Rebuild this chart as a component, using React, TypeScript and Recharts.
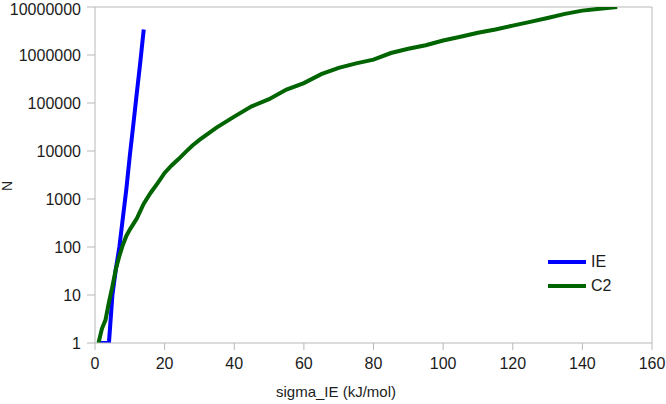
import React from "react";
import {
  LineChart,
  Line,
  XAxis,
  YAxis,
  Legend,
  ReferenceLine,
} from "recharts";

// sigma_IE (kJ/mol) vs N
const ieX = [1, 2, 3, 4, 5, 6, 7, 8, 9, 10, 11, 12, 13, 14];
const ieN = [1, 1, 1, 1, 10, 35, 100, 400, 1600, 8000, 35000, 160000, 700000, 3400000];

const c2X = [
  1, 2, 3, 4, 5, 6, 7, 8, 9, 10, 12, 14, 16, 18, 20, 22, 24, 26, 28, 30, 35, 40, 45,
  50, 55, 60, 65, 70, 75, 80, 85, 90, 95, 100, 105, 110, 115, 120, 125, 130, 135,
  140, 145, 150,
];
const c2N = [
  1, 2, 3, 7, 15, 35, 65, 110, 170, 230, 390, 800, 1350, 2150, 3500, 5000, 6800,
  9500, 13000, 17000, 31000, 52000, 85000, 120000, 190000, 260000, 400000, 540000,
  670000, 800000, 1100000, 1350000, 1600000, 2000000, 2400000, 2900000, 3400000,
  4100000, 4900000, 5900000, 7200000, 8400000, 9200000, 10000000,
];

const xTicks = [0, 20, 40, 60, 80, 100, 120, 140, 160];
const yTicks = [1, 10, 100, 1000, 10000, 100000, 1000000, 10000000];

const seriesNames = ["IE", "C2"];
const seriesColors = ["#0000ff", "#006400"];

const ieData = ieX.map((x, i) => ({ x, n: ieN[i] }));
const c2Data = c2X.map((x, i) => ({ x, n: c2N[i] }));

const FONT = "'Liberation Sans', Arial, sans-serif";
const TEXT = "#1c1c1c";
const GRAY = "#b8b8b8";

function LegendBox() {
  return (
    <div style={{ fontFamily: FONT, fontSize: 16, color: TEXT }}>
      {seriesNames.map((name, i) => (
        <div
          key={name}
          style={{ display: "flex", alignItems: "center", height: 23.7 }}
        >
          <svg width={38} height={6} style={{ display: "block" }}>
            <line x1={0} y1={3} x2={38} y2={3} stroke={seriesColors[i]} strokeWidth={4} />
          </svg>
          <span style={{ marginLeft: 5 }}>{name}</span>
        </div>
      ))}
    </div>
  );
}

export default function App() {
  return (
    <div
      style={{
        position: "absolute",
        left: 0,
        top: 0,
        width: 666,
        height: 404,
        background: "#fff",
      }}
    >
      <LineChart
        width={666}
        height={404}
        margin={{ top: 7, right: 14, bottom: 0, left: 0 }}
      >
        <XAxis
          dataKey="x"
          type="number"
          domain={[0, 160]}
          ticks={xTicks}
          allowDuplicatedCategory={false}
          height={61}
          stroke={GRAY}
          tickSize={7}
          tickMargin={8}
          tick={{ fill: TEXT, fontSize: 16, fontFamily: FONT }}
          label={(props: any) => {
            const vb = props.viewBox;
            return (
              <text
                x={336}
                y={vb.y + vb.height - 7}
                textAnchor="middle"
                fill={TEXT}
                fontSize={15}
                fontFamily={FONT}
              >
                sigma_IE (kJ/mol)
              </text>
            );
          }}
        />
        <YAxis
          dataKey="n"
          scale="log"
          domain={[1, 10000000]}
          ticks={yTicks}
          allowDataOverflow
          width={95}
          stroke={GRAY}
          tickSize={8}
          tickMargin={6}
          tickFormatter={(v: number) => String(v)}
          tick={{ fill: TEXT, fontSize: 16, fontFamily: FONT }}
          label={(props: any) => {
            const vb = props.viewBox;
            const cx = 7;
            const cy = vb.y + vb.height / 2 + 11;
            return (
              <text
                x={cx}
                y={cy}
                transform={`rotate(-90, ${cx}, ${cy})`}
                textAnchor="middle"
                dominantBaseline="central"
                fill={TEXT}
                fontSize={14}
                fontFamily={FONT}
              >
                N
              </text>
            );
          }}
        />
        <ReferenceLine y={10000000} stroke={GRAY} />
        <ReferenceLine x={160} stroke={GRAY} />
        <Legend
          layout="vertical"
          align="center"
          verticalAlign="middle"
          content={() => <LegendBox />}
          wrapperStyle={{ position: "absolute", left: 548, top: 250, width: 80 }}
        />
        <Line
          data={ieData}
          dataKey="n"
          name={seriesNames[0]}
          type="linear"
          stroke={seriesColors[0]}
          strokeWidth={4}
          dot={false}
          isAnimationActive={false}
        />
        <Line
          data={c2Data}
          dataKey="n"
          name={seriesNames[1]}
          type="linear"
          stroke={seriesColors[1]}
          strokeWidth={4}
          dot={false}
          isAnimationActive={false}
        />
      </LineChart>
    </div>
  );
}
